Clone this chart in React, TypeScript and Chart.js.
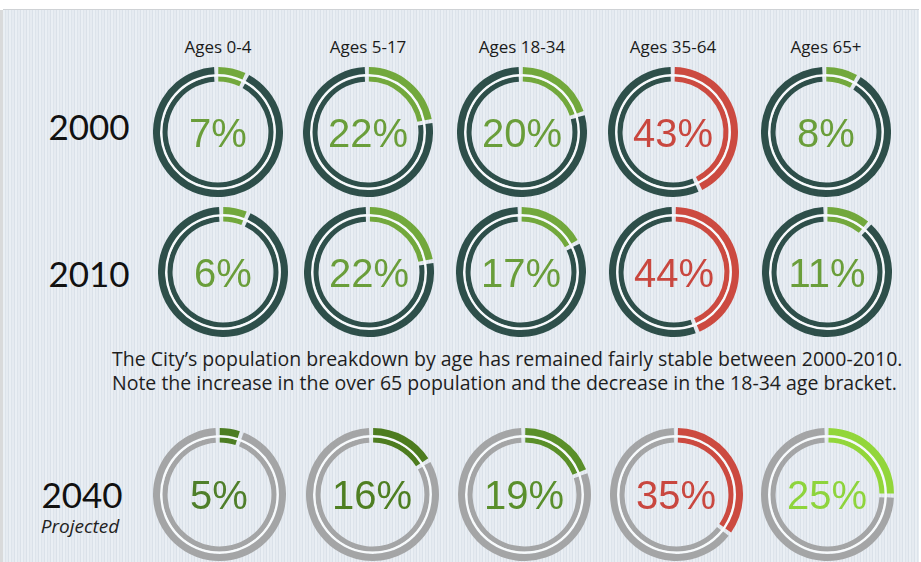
import React, { useEffect, useRef } from "react";
import { Chart, registerables } from "chart.js";

Chart.register(...registerables);

// ---- data ----
const ageGroups = ["Ages 0-4", "Ages 5-17", "Ages 18-34", "Ages 35-64", "Ages 65+"];
const yearLabels = ["2000", "2010", "2040"];
const projectedNote = "Projected";
const pct2000 = [7, 22, 20, 43, 8];
const pct2010 = [6, 22, 17, 44, 11];
const pct2040 = [5, 16, 19, 35, 25];
const caption = [
  "The City\u2019s population breakdown by age has remained fairly stable between 2000-2010.",
  "Note the increase in the over 65 population and the decrease in the 18-34 age bracket.",
];

// ---- styles / layout ----
const DARK = "#2e4f4a";
const GRAY = "#a4a5a6";
const GREEN = "#72a83c";
const RED = "#cc4a40";
const rowRing = [DARK, DARK, GRAY];
const rowColors = [
  [GREEN, GREEN, GREEN, RED, GREEN],
  [GREEN, GREEN, GREEN, RED, GREEN],
  ["#4c7d22", "#4d7c1f", "#5a8f29", RED, "#92d63a"],
];
const rowTextColors = [
  ["#6a9e3a", "#6a9e3a", "#6a9e3a", "#c9473f", "#6a9e3a"],
  ["#6a9e3a", "#6a9e3a", "#6a9e3a", "#c9473f", "#6a9e3a"],
  ["#4f7f2a", "#4f7f22", "#5a8f2c", "#c9473f", "#8ed43c"],
];
const colX = [
  [218, 368, 522, 673, 826],
  [223, 369, 521, 674, 827],
  [219, 372, 524, 676, 827],
];
const rowY = [132, 272, 494];
const rowR = [63.5, 63.5, 65];
const SPACING = 2.5;

function Donut({ value, ring, color, r }: { value: number; ring: string; color: string; r: number }) {
  const ref = useRef<HTMLCanvasElement>(null);
  useEffect(() => {
    if (!ref.current) return;
    const outer = r;
    const inner = r - 14.5;
    const chart = new Chart(ref.current, {
      type: "doughnut",
      data: {
        labels: ["share", "rest"],
        datasets: [
          { data: [value, 100 - value], backgroundColor: [color, ring], borderWidth: 0, weight: 7, spacing: SPACING } as any,
          { data: [100], backgroundColor: ["rgba(250,252,253,0.9)"], borderWidth: 0, weight: 2.2, spacing: 0 } as any,
          { data: [value, 100 - value], backgroundColor: [color, ring], borderWidth: 0, weight: 5.3, spacing: SPACING } as any,
        ],
      },
      options: {
        responsive: false,
        animation: false,
        events: [],
        cutout: ((inner / outer) * 100).toFixed(2) + "%",
        layout: { padding: 0 },
        plugins: { legend: { display: false }, tooltip: { enabled: false } },
      } as any,
    });
    return () => chart.destroy();
  }, [value, ring, color, r]);
  const size = Math.round(2 * r + SPACING);
  return <canvas ref={ref} width={size} height={size} style={{ width: size, height: size, display: "block" }} />;
}

export default function App() {
  const rows = [pct2000, pct2010, pct2040];
  return (
    <div style={{ position: "fixed", left: 0, top: 0, width: 921, height: 562, background: "#ffffff", overflow: "hidden" }}>
      <div style={{ position: "absolute", left: 0, top: 10, width: 3, height: 552, background: "#d9dadb" }} />
      <div
        style={{
          position: "absolute",
          left: 3,
          top: 9,
          width: 916,
          height: 553,
          borderTop: "1px solid #cfd2d5",
          backgroundColor: "#e8edf2",
          backgroundImage:
            "repeating-linear-gradient(90deg, #eaeff4 0px, #eaeff4 2px, #dde4eb 2px, #dde4eb 3px, #e6ebf1 3px, #e6ebf1 5px, #dae1e9 5px, #dae1e9 6px)",
        }}
      />
      {ageGroups.map((g, i) => (
        <div
          key={g}
          style={{
            position: "absolute",
            left: colX[0][i] - 80,
            width: 160,
            top: 36,
            textAlign: "center",
            fontFamily: "'Open Sans', sans-serif",
            fontSize: 17,
            lineHeight: "22px",
            color: "#1b1b1b",
          }}
        >
          {g}
        </div>
      ))}
      {yearLabels.map((y, i) => (
        <div
          key={y}
          style={{
            position: "absolute",
            left: i === 2 ? 2 : 9,
            width: 160,
            top: [126, 273, 494][i] - 22,
            textAlign: "center",
            fontFamily: "Lato, sans-serif",
            fontSize: 35,
            lineHeight: "44px",
            color: "#111",
          }}
        >
          {y}
        </div>
      ))}
      <div
        style={{
          position: "absolute",
          left: 0,
          width: 160,
          top: 514,
          textAlign: "center",
          fontFamily: "'Open Sans', sans-serif",
          fontStyle: "italic",
          fontSize: 19,
          lineHeight: "24px",
          color: "#222",
        }}
      >
        {projectedNote}
      </div>
      {caption.map((line, i) => (
        <div
          key={i}
          style={{
            position: "absolute",
            left: 112,
            top: 347 + i * 24,
            whiteSpace: "nowrap",
            fontFamily: "'Open Sans', sans-serif",
            fontSize: 19.5,
            lineHeight: "24px",
            color: "#1e1e1e",
          }}
        >
          {line}
        </div>
      ))}
      {rows.map((vals, ri) =>
        vals.map((v, ci) => {
          const r = rowR[ri];
          const size = Math.round(2 * r + SPACING);
          const cx = colX[ri][ci];
          const cy = rowY[ri];
          return (
            <div key={ri + "-" + ci} style={{ position: "absolute", left: cx - size / 2, top: cy - size / 2, width: size, height: size }}>
              <Donut value={v} ring={rowRing[ri]} color={rowColors[ri][ci]} r={r} />
              <div
                style={{
                  position: "absolute",
                  left: 0,
                  top: 0,
                  width: size,
                  height: size,
                  display: "flex",
                  alignItems: "center",
                  justifyContent: "center",
                  fontFamily: "'Liberation Sans', Arial, sans-serif",
                  fontSize: 40,
                  color: rowTextColors[ri][ci],
                  paddingTop: 2,
                  boxSizing: "border-box",
                }}
              >
                {v}%
              </div>
            </div>
          );
        })
      )}
    </div>
  );
}
